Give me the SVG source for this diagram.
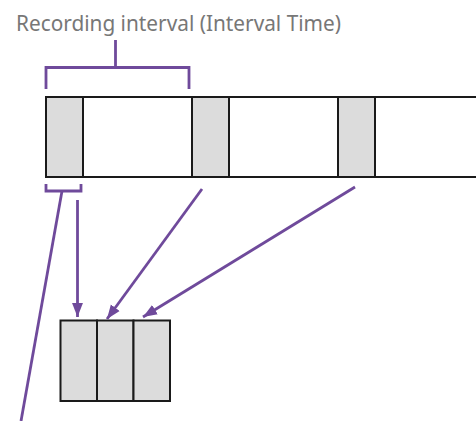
<svg xmlns="http://www.w3.org/2000/svg" width="476" height="421" viewBox="0 0 476 421">
<style>
.lbl{font-family:"Noto Sans","Open Sans",sans-serif;font-size:21px;fill:#777}
.cell{fill:#dcdcdc;stroke:#1a1a1a;stroke-width:2}
.strip{fill:#fff;stroke:#1a1a1a;stroke-width:2}
.pl{fill:none;stroke:#6f4a9b;stroke-width:2.8}
</style>
<defs>
<marker id="ah" markerUnits="userSpaceOnUse" markerWidth="14" markerHeight="14" viewBox="0 0 18 14" refX="18" refY="7" orient="auto">
<path d="M0,0 L18,7 L0,14 Z" fill="#6f4a9b"/>
</marker>
</defs>
<text class="lbl" x="16" y="31" textLength="325" lengthAdjust="spacingAndGlyphs">Recording interval (Interval Time)</text>
<g id="strip">
<path class="strip" d="M477,97 H46 V177 H477"/>
<rect class="cell" x="46" y="97" width="37" height="80"/>
<rect class="cell" x="192" y="97" width="37" height="80"/>
<rect class="cell" x="338" y="97" width="37" height="80"/>
</g>
<g id="result">
<rect class="cell" x="60.5" y="320.5" width="36.5" height="80.5"/>
<rect class="cell" x="97" y="320.5" width="36.5" height="80.5"/>
<rect class="cell" x="133.5" y="320.5" width="36.5" height="80.5"/>
</g>
<g id="connectors">
<path class="pl" d="M115.5,40 V67.5 M46,89 V67.5 H189 V89"/>
<path class="pl" d="M46,184 V191 H81 V184"/>
<path class="pl" d="M62,191 L21,421"/>
<path class="pl" d="M77.5,200 V317" marker-end="url(#ah)"/>
<path class="pl" d="M202,189 L107,319" marker-end="url(#ah)"/>
<path class="pl" d="M355,187 L143,317" marker-end="url(#ah)"/>
</g>
</svg>
